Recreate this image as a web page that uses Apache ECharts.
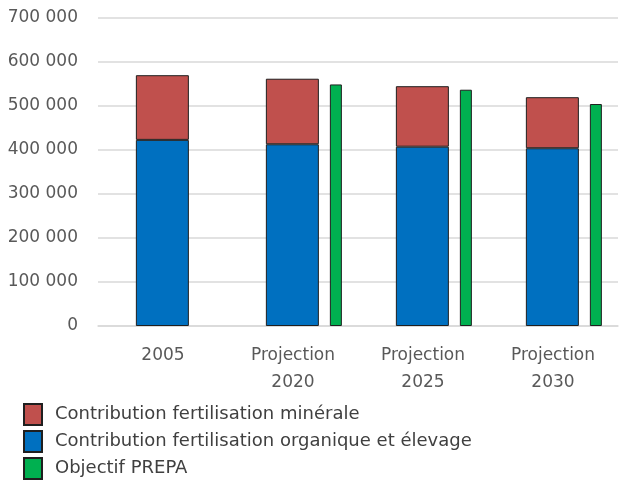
<!DOCTYPE html>
<html>
<head>
<meta charset="utf-8">
<script src="https://cdn.jsdelivr.net/npm/echarts@6/dist/echarts.min.js"></script>
<style>
html,body{margin:0;padding:0;background:#fff;}
#c{width:627px;height:482px;}
</style>
</head>
<body>
<div id="c"></div>
<script>
const categories = ['2005', 'Projection\n2020', 'Projection\n2025', 'Projection\n2030'];
const mineral = [147000, 149000, 137500, 116000];
const organic = [423000, 413000, 407500, 404000];
const prepa = [null, 549000, 537000, 504500];
const yTicks = [0, 100000, 200000, 300000, 400000, 500000, 600000, 700000];
const names = ['Contribution fertilisation minérale', 'Contribution fertilisation organique et élevage', 'Objectif PREPA'];

const font = 'DejaVu Sans';
const textColor = '#595959';
const border = { borderColor: '#1f1f1f', borderWidth: 1 };

const chart = echarts.init(document.getElementById('c'));
chart.setOption({
  animation: false,
  grid: { left: 98, right: 9, top: 18, bottom: 156 },
  legend: {
    data: names,
    orient: 'vertical',
    left: 23,
    top: 403,
    height: 100,
    padding: 0,
    icon: 'rect',
    itemWidth: 18,
    itemHeight: 21,
    itemGap: 4,
    textStyle: { fontFamily: font, fontSize: 18, lineHeight: 21, color: '#404040', padding: [0, 0, 0, 8] }
  },
  xAxis: {
    type: 'category',
    data: categories,
    axisTick: { show: false },
    axisLine: { lineStyle: { color: '#d9d9d9', width: 1.5 } },
    axisLabel: { fontFamily: font, fontSize: 17, color: textColor, margin: 16, lineHeight: 27 }
  },
  yAxis: {
    type: 'value',
    min: yTicks[0],
    max: yTicks[yTicks.length - 1],
    interval: yTicks[1] - yTicks[0],
    axisLabel: {
      fontFamily: font, fontSize: 17, color: textColor, margin: 20,
      formatter: v => String(v).replace(/\B(?=(\d{3})+(?!\d))/g, ' ')
    },
    splitLine: { lineStyle: { color: '#d9d9d9', width: 1.5 } }
  },
  series: [
    { type: 'bar', name: '_spacer', stack: 'spacer', data: categories.map(() => null), barWidth: 18, barGap: '20.75%', silent: true },
    { type: 'bar', name: names[1], stack: 'total', data: organic, barWidth: 53, barGap: '20.75%', itemStyle: Object.assign({ color: '#0070C0' }, border) },
    { type: 'bar', name: names[0], stack: 'total', data: mineral, barWidth: 53, barGap: '20.75%', itemStyle: Object.assign({ color: '#C0504D' }, border) },
    { type: 'bar', name: names[2], stack: 'prepa', data: prepa, barWidth: 12, barGap: '20.75%', itemStyle: Object.assign({ color: '#00B050' }, border) }
  ]
});
</script>
</body>
</html>
